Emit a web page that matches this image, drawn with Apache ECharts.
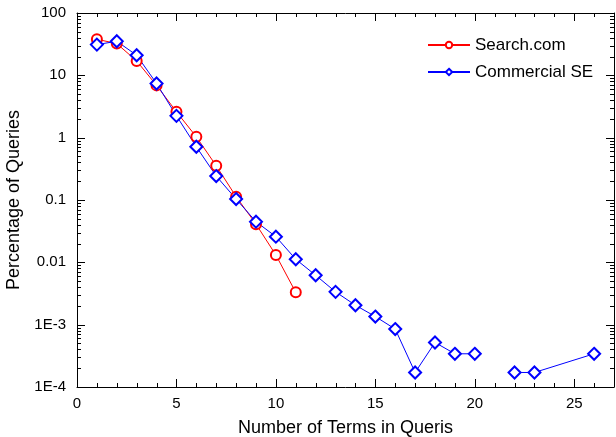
<!DOCTYPE html>
<html>
<head>
<meta charset="utf-8">
<script src="https://cdn.jsdelivr.net/npm/echarts@6/dist/echarts.min.js"></script>
<style>
html,body{margin:0;padding:0;background:#fff;}
#c{width:616px;height:437px;}
</style>
</head>
<body>
<div id="c"></div>
<script>
// ---- data ----
const searchX = [1, 2, 3, 4, 5, 6, 7, 8, 9, 10, 11];
const searchY = [37.9, 32.3, 17.0, 6.9, 2.6, 1.03, 0.354, 0.113, 0.041, 0.0131, 0.0033];
const commercialX = [1, 2, 3, 4, 5, 6, 7, 8, 9, 10, 11, 12, 13, 14, 15, 16, 17, 18, 19, 20, 21, 22, 23, 26];
const commercialY = [31.1, 35.2, 21.0, 7.4, 2.24, 0.714, 0.242, 0.1035, 0.0449, 0.0258, 0.0112, 0.0062, 0.00336, 0.00205, 0.00135, 0.00085, 0.000171, 0.000518, 0.000341, 0.000341, '-', 0.000171, 0.000171, 0.000341];
// ---- axes / ticks ----
const xMin = 0, xMax = 27, yMin = 1e-4, yMax = 100;
const xMajorTicks = [0, 5, 10, 15, 20, 25];
const xMinorTicks = [1, 2, 3, 4, 6, 7, 8, 9, 11, 12, 13, 14, 16, 17, 18, 19, 21, 22, 23, 24, 26];
const yTicks = [1e-4, 1e-3, 0.01, 0.1, 1, 10, 100];
const yTickLabels = ['1E-4', '1E-3', '0.01', '0.1', '1', '10', '100'];
const yMinorTicks = [2e-4, 3e-4, 4e-4, 5e-4, 6e-4, 7e-4, 8e-4, 9e-4,
  2e-3, 3e-3, 4e-3, 5e-3, 6e-3, 7e-3, 8e-3, 9e-3,
  0.02, 0.03, 0.04, 0.05, 0.06, 0.07, 0.08, 0.09,
  0.2, 0.3, 0.4, 0.5, 0.6, 0.7, 0.8, 0.9,
  2, 3, 4, 5, 6, 7, 8, 9,
  20, 30, 40, 50, 60, 70, 80, 90];

const FONT = '"Liberation Sans", Arial, sans-serif';
const pair = (xs, ys) => xs.map((x, i) => [x, ys[i]]);
const MAJOR_LEN = 8, MINOR_LEN = 4;

function xA(pos, lbl, name) {
  const o = {type: 'value', position: pos, min: xMin, max: xMax, interval: 5,
    axisLine: {show: true, onZero: false, lineStyle: {color: '#000'}},
    axisTick: {show: false},
    minorTick: {show: false},
    axisLabel: {show: lbl, showMaxLabel: false, margin: 9, fontFamily: FONT, fontSize: 15, color: '#000'},
    splitLine: {show: false}};
  if (name) { o.name = name; o.nameLocation = 'middle'; o.nameGap = 32; o.nameTextStyle = {fontFamily: FONT, fontSize: 18, color: '#000'}; }
  return o;
}
function yA(pos, lbl, name) {
  const o = {type: 'log', logBase: 10, position: pos, min: yMin, max: yMax,
    axisLine: {show: true, onZero: false, lineStyle: {color: '#000'}},
    axisTick: {show: false},
    minorTick: {show: false},
    axisLabel: {show: lbl, customValues: yTicks, margin: 11, fontFamily: FONT, fontSize: 15, color: '#000',
      formatter: function (val) {
        let best = 0, bd = Infinity;
        yTicks.forEach((t, i) => { const d = Math.abs(Math.log10(t) - Math.log10(val)); if (d < bd) { bd = d; best = i; } });
        return yTickLabels[best];
      }},
    splitLine: {show: false}};
  if (name) { o.name = name; o.nameLocation = 'middle'; o.nameGap = 42; o.nameTextStyle = {fontFamily: FONT, fontSize: 18, color: '#000'}; }
  return o;
}

// tick marks drawn through the axes' own scales (inward, on all four sides)
const xTickData = xMajorTicks.map(v => [v, 1, 1]).concat(xMinorTicks.map(v => [v, 1, 0]));
const yTickData = yTicks.map(v => [1, v, 1]).concat(yMinorTicks.map(v => [1, v, 0]));
const tickStyle = {stroke: '#000', lineWidth: 1};
function renderXTick(params, api) {
  const v = api.value(0), len = api.value(2) ? MAJOR_LEN : MINOR_LEN;
  const b = api.coord([v, yMin]), t = api.coord([v, yMax]);
  const x = Math.round(b[0]) + 0.5;
  return {type: 'group', children: [
    {type: 'line', shape: {x1: x, y1: b[1], x2: x, y2: b[1] - len}, style: tickStyle},
    {type: 'line', shape: {x1: x, y1: t[1], x2: x, y2: t[1] + len}, style: tickStyle}
  ]};
}
function renderYTick(params, api) {
  const v = api.value(1), len = api.value(2) ? MAJOR_LEN : MINOR_LEN;
  const l = api.coord([xMin, v]), r = api.coord([xMax, v]);
  const y = Math.round(l[1]) + 0.5;
  return {type: 'group', children: [
    {type: 'line', shape: {x1: l[0], y1: y, x2: l[0] + len, y2: y}, style: tickStyle},
    {type: 'line', shape: {x1: r[0], y1: y, x2: r[0] - len, y2: y}, style: tickStyle}
  ]};
}

const chart = echarts.init(document.getElementById('c'));
chart.setOption({
  animation: false,
  grid: {left: 77, right: 2, top: 13, bottom: 50, containLabel: false, outerBoundsMode: 'none'},
  legend: {
    orient: 'vertical', left: 422, top: 30,
    itemWidth: 42, itemHeight: 8, itemGap: 7,
    textStyle: {fontFamily: FONT, fontSize: 17, color: '#000', lineHeight: 20},
    data: ['Search.com', 'Commercial SE']
  },
  xAxis: [xA('bottom', true, 'Number of Terms in Queris'), xA('top', false)],
  yAxis: [yA('left', true, 'Percentage of Queries'), yA('right', false)],
  series: [
    {name: 'xTicks', type: 'custom', silent: true, clip: false, z: 10,
      encode: {x: 0, y: 1}, data: xTickData, renderItem: renderXTick},
    {name: 'yTicks', type: 'custom', silent: true, clip: false, z: 10,
      encode: {x: 0, y: 1}, data: yTickData, renderItem: renderYTick},
    {name: 'Search.com', type: 'line', data: pair(searchX, searchY),
      symbol: 'emptyCircle', symbolSize: 10,
      lineStyle: {color: '#ff0000', width: 1},
      itemStyle: {color: '#ff0000', borderWidth: 1}},
    {name: 'Commercial SE', type: 'line', data: pair(commercialX, commercialY),
      symbol: 'emptyDiamond', symbolSize: 12, connectNulls: false,
      lineStyle: {color: '#0000ff', width: 1},
      itemStyle: {color: '#0000ff', borderWidth: 1}}
  ]
});
</script>
</body>
</html>
